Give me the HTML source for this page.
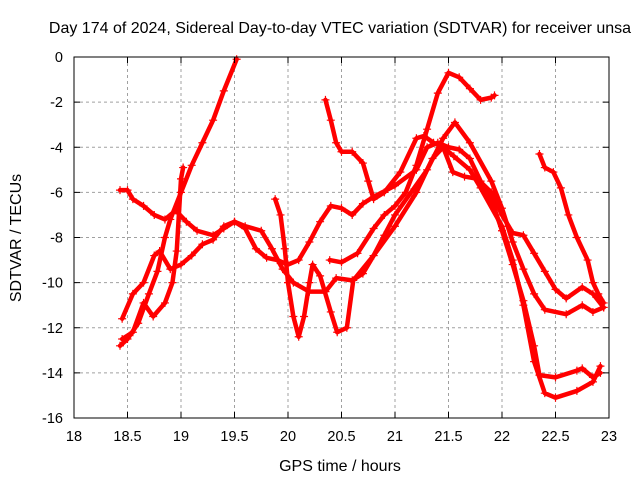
<!DOCTYPE html>
<html><head><meta charset="utf-8"><style>
body{margin:0;background:#fff;}
svg text{font-family:"Liberation Sans",sans-serif;font-size:14.5px;fill:#000;}
svg text.big{font-size:16px;}
</style></head><body>
<svg id="chart" width="640" height="480" viewBox="0 0 640 480" xmlns="http://www.w3.org/2000/svg">
<rect width="640" height="480" fill="#fff"/>
<text class="big" x="340" y="33" text-anchor="middle">Day 174 of 2024, Sidereal Day-to-day VTEC variation (SDTVAR) for receiver unsa</text>
<g id="grid"></g>
<g id="series"></g>
<rect x="74" y="57" width="535" height="361" fill="none" stroke="#000" stroke-width="1"/>
<g id="ticks"></g>
<text class="big" x="340" y="471" text-anchor="middle">GPS time / hours</text>
<text class="big" transform="translate(21,238) rotate(-90)" text-anchor="middle">SDTVAR / TECUs</text>
</svg>
<script>
const xTicks=[18,18.5,19,19.5,20,20.5,21,21.5,22,22.5,23];
const xTickLabels=["18","18.5","19","19.5","20","20.5","21","21.5","22","22.5","23"];
const yTicks=[0,-2,-4,-6,-8,-10,-12,-14,-16];
const yTickLabels=["0","-2","-4","-6","-8","-10","-12","-14","-16"];
const track1=[[18.43,-12.8],[18.5,-12.5],[18.6,-11.8],[18.7,-10.5],[18.78,-9.5],[18.85,-8.0],[18.9,-7.2],[19.0,-6.0],[19.1,-4.8],[19.2,-3.8],[19.3,-2.8],[19.4,-1.5],[19.52,-0.1]];
const track2=[[18.43,-5.9],[18.5,-5.9],[18.55,-6.3],[18.65,-6.6],[18.75,-7.0],[18.85,-7.2],[18.95,-6.8],[19.05,-7.3],[19.15,-7.7],[19.3,-7.9],[19.4,-7.6],[19.5,-7.3],[19.6,-7.5],[19.75,-7.7],[19.85,-8.5],[19.95,-9.4],[20.05,-10.0],[20.2,-10.4],[20.35,-10.4],[20.45,-9.8],[20.6,-9.9],[20.7,-9.6],[20.8,-8.8],[20.9,-7.9],[21.0,-7.0],[21.15,-6.0],[21.3,-5.0],[21.45,-3.6],[21.56,-2.9],[21.7,-3.8],[21.9,-5.5],[22.0,-6.7],[22.1,-8.2],[22.2,-9.4],[22.3,-10.5],[22.4,-11.2],[22.6,-11.4],[22.75,-11.0],[22.85,-11.3],[22.95,-11.1]];
const track3=[[20.39,-9.0],[20.5,-9.1],[20.65,-8.7],[20.8,-7.6],[20.9,-7.0],[21.0,-6.6],[21.1,-6.0],[21.2,-4.8],[21.3,-3.2],[21.4,-1.6],[21.5,-0.7],[21.6,-0.9],[21.7,-1.4],[21.8,-1.9],[21.9,-1.8],[21.93,-1.7]];
const track4=[[20.35,-1.9],[20.4,-2.8],[20.45,-3.8],[20.5,-4.2],[20.6,-4.2],[20.7,-4.7],[20.75,-5.5],[20.8,-6.3],[20.9,-6.0],[21.05,-5.1],[21.2,-3.6],[21.27,-3.5],[21.36,-3.8],[21.45,-4.0],[21.54,-5.1],[21.65,-5.3],[21.77,-5.4],[21.9,-6.0],[22.0,-7.0],[22.1,-7.8],[22.2,-7.9],[22.3,-8.7],[22.4,-9.5],[22.5,-10.3],[22.6,-10.7],[22.75,-10.2],[22.85,-10.5],[22.95,-11.1]];
const track5=[[18.45,-11.6],[18.55,-10.5],[18.65,-10.0],[18.75,-8.8],[18.8,-8.6],[18.9,-9.4],[19.0,-9.2],[19.1,-8.8],[19.2,-8.3],[19.3,-8.1],[19.4,-7.5],[19.5,-7.3],[19.6,-7.6],[19.7,-8.5],[19.8,-8.9],[19.9,-9.0],[20.0,-9.2],[20.1,-9.0],[20.2,-8.2],[20.3,-7.3],[20.4,-6.6],[20.5,-6.7],[20.6,-7.0],[20.7,-6.5],[20.8,-6.2],[21.0,-5.7],[21.2,-5.0],[21.3,-4.0],[21.4,-3.8],[21.5,-4.0],[21.6,-4.1],[21.7,-4.5],[21.8,-5.5],[21.9,-6.3],[22.0,-7.7],[22.1,-9.2],[22.2,-10.8],[22.3,-12.8],[22.35,-14.1],[22.5,-14.2],[22.7,-13.9],[22.75,-13.8],[22.85,-14.2],[22.92,-14.0]];
const track6=[[19.88,-6.3],[19.93,-7.0],[19.97,-8.5],[20.0,-10.0],[20.05,-11.5],[20.1,-12.4],[20.15,-11.5],[20.2,-10.0],[20.23,-9.2],[20.3,-9.7],[20.4,-11.3],[20.46,-12.2],[20.55,-12.0],[20.61,-9.9],[20.8,-8.8],[21.0,-7.5],[21.2,-6.0],[21.35,-4.5],[21.45,-4.0],[21.55,-4.4],[21.7,-5.0],[21.8,-5.8],[22.0,-7.5],[22.1,-9.0],[22.2,-11.0],[22.3,-13.5],[22.4,-14.9],[22.5,-15.1],[22.7,-14.8],[22.85,-14.4],[22.92,-13.7]];
const track7=[[22.35,-4.3],[22.4,-4.9],[22.48,-5.1],[22.55,-5.8],[22.62,-7.0],[22.7,-8.0],[22.8,-9.0],[22.85,-10.0],[22.9,-10.5],[22.95,-10.9]];
const track8=[[18.45,-12.5],[18.55,-12.2],[18.65,-10.9],[18.74,-11.5],[18.85,-10.9],[18.92,-10.0],[18.96,-8.6],[19.0,-5.4],[19.02,-4.9]];
const tracks=[track1,track2,track3,track4,track5,track6,track7,track8];
const NS="http://www.w3.org/2000/svg";
function xs(h){return 74+(h-18)*107;}
function ys(v){return 57-v*22.5625;}
const grid=document.getElementById('grid'),ticks=document.getElementById('ticks'),ser=document.getElementById('series');
function mk(tag,attrs,parent){const e=document.createElementNS(NS,tag);for(const k in attrs)e.setAttribute(k,attrs[k]);parent.appendChild(e);return e;}
xTicks.forEach((t,i)=>{const x=xs(t);
 const g=mk('line',{x1:x,y1:57,x2:x,y2:418,stroke:'#a0a0a0','stroke-dasharray':'3,3'},grid);
 
 
 mk('line',{x1:x,y1:418,x2:x,y2:412,stroke:'#000'},ticks);
 mk('line',{x1:x,y1:57,x2:x,y2:63,stroke:'#000'},ticks);
 const l=mk('text',{x:x,y:441,'text-anchor':'middle'},ticks);l.textContent=xTickLabels[i];
 
 });
yTicks.forEach((t,i)=>{const y=ys(t);
 const g=mk('line',{x1:74,y1:y,x2:609,y2:y,stroke:'#a0a0a0','stroke-dasharray':'3,3'},grid);
 
 
 mk('line',{x1:74,y1:y,x2:80,y2:y,stroke:'#000'},ticks);
 mk('line',{x1:609,y1:y,x2:603,y2:y,stroke:'#000'},ticks);
 const l=mk('text',{x:63,y:y+5,'text-anchor':'end'},ticks);l.textContent=yTickLabels[i];
 
 });
tracks.forEach((tr,k)=>{
 const pts=tr.map(p=>xs(p[0])+','+ys(p[1])).join(' ');
 const pl=mk('polyline',{points:pts,fill:'none',stroke:'#ff0000','stroke-width':4.5,'stroke-linejoin':'round','stroke-linecap':'round'},ser);
 
 
 let d='';tr.forEach(p=>{const x=xs(p[0]),y=ys(p[1]);d+=`M${x-4},${y}h8M${x},${y-4}v8`;});
 const m=mk('path',{d:d,stroke:'#ff0000','stroke-width':1.2,fill:'none'},ser);
 
 
});
</script>
</body></html>
